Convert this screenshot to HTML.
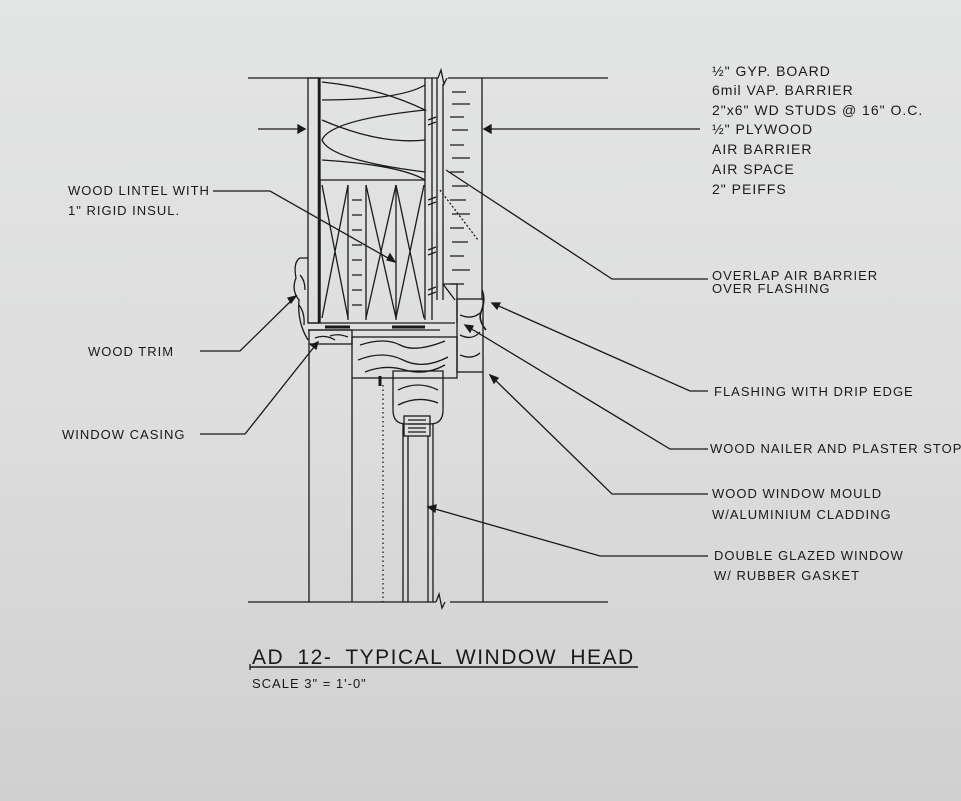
<!DOCTYPE html>
<html><head><meta charset="utf-8"><style>
html,body{margin:0;padding:0}
body{width:961px;height:801px;overflow:hidden;background:linear-gradient(180deg,#e3e4e4 0%,#dddedd 50%,#cfd0cf 100%);}
svg{position:absolute;left:0;top:0}
text{font-family:"Liberation Sans",sans-serif;fill:#1a1a1a;letter-spacing:1px}
</style></head><body>
<svg width="961" height="801" viewBox="0 0 961 801" fill="none" stroke="#1a1a1a" stroke-width="1.3">
<path d="M248 78 H438 M448 78 H608"/>
<path d="M248 602 H436 M450 602 H608"/>
<path d="M438 78 l3 -8 l3 14 l3 -6" />
<path d="M436 602 l3 -8 l3 14 l3 -6" />
<path d="M258 129 H305 M484 129 H700"/>
<path d="M305 129 l-7 -4 v8z M484 129 l7 -4 v8z" fill="#1a1a1a"/>
<rect x="308" y="78" width="12" height="245"/>
<path d="M319 78 V323" stroke-width="2.5"/>
<path d="M320 180 H425"/>
<path d="M322 82 Q380 88 425 110 Q330 120 322 140 Q330 160 425 172 M322 100 Q400 100 425 85 M322 120 Q380 145 425 140 M322 160 Q400 165 425 180"/>
<path d="M320 180 V320 M348 185 V320 M366 185 V320 M396 185 V320 M425 78 V320"/>
<path d="M322 185 L348 318 M348 185 L322 318 M366 185 L396 318 M396 185 L366 318 M396 185 L424 318 M424 185 L396 318"/>
<path d="M352 200 h10 M352 215 h10 M352 230 h10 M352 245 h10 M352 260 h10 M352 275 h10 M352 290 h10 M352 305 h10"/>
<path d="M432 78 V320 M437 78 V300"/>
<path d="M428 120 l8 -3 M428 125 l8 -3 M428 200 l8 -3 M428 205 l8 -3 M428 250 l8 -3 M428 255 l8 -3 M428 290 l8 -3 M428 295 l8 -3"/>
<path d="M443 84 V300 M482 78 V300"/>
<path d="M452 92h14 M452 104h18 M450 117h14 M452 130h16 M450 145h14 M452 158h18 M450 172h14 M452 186h16 M450 200h16 M452 214h18 M450 228h14 M452 242h16 M450 256h14 M452 270h18 M450 284h14"/>
<path d="M440 190 L478 240" stroke-dasharray="2 2"/>
<path d="M308 323 H455 M308 330 H440" />
<path d="M325 327 H350 M392 327 H425" stroke-width="3"/>
<path d="M308 258 H300 Q293 262 296 278 Q291 290 299 300 Q297 322 308 340"/>
<path d="M300 275 q5 5 5 15 M299 305 q6 8 5 20"/>
<rect x="309" y="330" width="43" height="14"/>
<path d="M315 338 q10 -4 20 2 M330 336 q8 -3 18 1"/>
<rect x="352" y="337" width="105" height="41"/>
<path d="M360 345 q25 -8 40 0 t45 -4 M358 360 q25 -10 45 0 t45 -3 M365 372 q20 -8 40 -2 t40 -5"/>
<rect x="457" y="299" width="26" height="73"/>
<path d="M460 315 q12 5 20 -2 M460 335 q12 6 20 -3 M460 355 q12 5 20 -2"/>
<path d="M443 284 H457 V323 M443 284 L455 300"/>
<path d="M482 290 Q486 300 481 312 Q478 320 486 330" stroke-width="1.6"/>
<path d="M393 371 H443 V410 Q443 424 430 424 H406 Q393 424 393 410 Z"/>
<path d="M398 390 q20 -10 40 0 M398 405 q20 -10 40 -2"/>
<rect x="404" y="416" width="26" height="20"/>
<path d="M408 420h18 M408 424h18 M408 428h18 M408 432h18"/>
<path d="M403 424 V602 M433 424 V602 M408 436 V602 M428 436 V602"/>
<path d="M309 344 V602 M352 378 V602 M483 372 V602"/>
<path d="M383 385 V602" stroke-dasharray="1.5 3"/>
<path d="M380 376 v10" stroke-width="3"/>
<path d="M213 191 H270 L395 262"/><path d="M395 262 l-8 -2 3 -6z" fill="#1a1a1a"/>
<path d="M200 351 H240 L296 296"/><path d="M296 296 l-8 2 3 5z" fill="#1a1a1a"/>
<path d="M200 434 H245 L318 342"/><path d="M318 342 l-7 3 5 4z" fill="#1a1a1a"/>
<path d="M708 279 H612 L446 170"/>
<path d="M708 391 H690 L492 303"/><path d="M492 303 l8 0 -3 6z" fill="#1a1a1a"/>
<path d="M708 449 H670 L465 325"/><path d="M465 325 l8 1 -3 6z" fill="#1a1a1a"/>
<path d="M708 494 H612 L490 375"/><path d="M490 375 l4 8 4 -5z" fill="#1a1a1a"/>
<path d="M708 556 H600 L428 507"/><path d="M428 507 l8 -2 -1 7z" fill="#1a1a1a"/>
<path d="M250 667 H638" stroke-width="1.6"/>
<path d="M250 670 V664"/>
<g stroke="none" font-size="13">
<text x="712" y="76" font-size="14">½" GYP. BOARD</text>
<text x="712" y="95" font-size="14">6mil VAP. BARRIER</text>
<text x="712" y="115" font-size="14">2"x6" WD STUDS @ 16" O.C.</text>
<text x="712" y="134" font-size="14">½" PLYWOOD</text>
<text x="712" y="154" font-size="14">AIR BARRIER</text>
<text x="712" y="174" font-size="14">AIR SPACE</text>
<text x="712" y="194" font-size="14">2" PEIFFS</text>
<text x="68" y="195">WOOD LINTEL WITH</text>
<text x="68" y="215">1" RIGID INSUL.</text>
<text x="88" y="356">WOOD TRIM</text>
<text x="62" y="439">WINDOW CASING</text>
<text x="712" y="280">OVERLAP AIR BARRIER</text>
<text x="712" y="293">OVER FLASHING</text>
<text x="714" y="396">FLASHING  WITH DRIP EDGE</text>
<text x="710" y="453">WOOD NAILER AND PLASTER STOP</text>
<text x="712" y="498">WOOD WINDOW MOULD</text>
<text x="712" y="519">W/ALUMINIUM CLADDING</text>
<text x="714" y="560">DOUBLE GLAZED WINDOW</text>
<text x="714" y="580">W/ RUBBER GASKET</text>
<text x="252" y="664" font-size="21" style="letter-spacing:1.5px;word-spacing:6px">AD 12- TYPICAL WINDOW HEAD</text>
<text x="252" y="688" font-size="13">SCALE   3" = 1'-0"</text>
</g>
</svg>
</body></html>
